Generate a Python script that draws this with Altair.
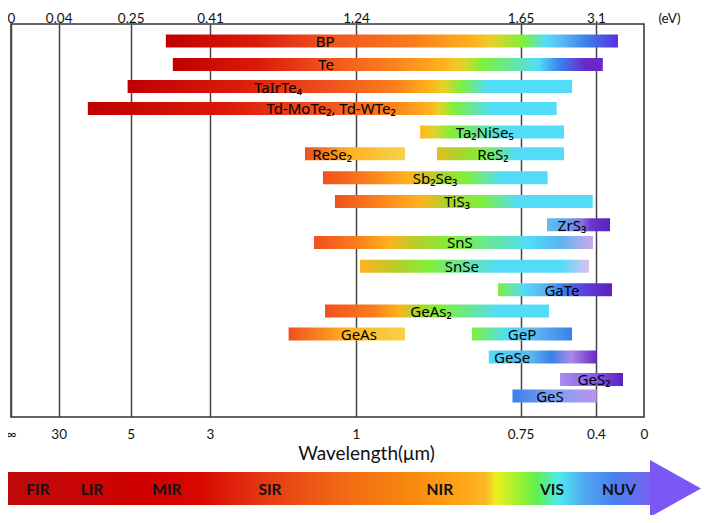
import altair as alt
import pandas as pd

# ---------------- data ----------------
names = ["BP", "Te", "TaIrTe₄", "Td-MoTe₂, Td-WTe₂", "Ta₂NiSe₅", "ReSe₂", "ReS₂",
         "Sb₂Se₃", "TiS₃", "ZrS₃", "SnS", "SnSe", "GaTe", "GeAs₂", "GeAs", "GeP",
         "GeSe", "GeS₂", "GeS"]
# photon-energy range of each material (eV, top axis)
e_start = [0.321, 0.335, 0.241, 0.125, 1.40, 0.95, 1.442, 1.052, 1.12, 2.159, 1.001,
           1.25, 1.594, 1.064, 0.857, 1.529, 1.571, 2.409, 1.63]
e_end = [3.97, 3.37, 2.64, 2.345, 2.485, 1.362, 2.485, 2.17, 3.037, 3.654, 3.042,
         2.966, 3.733, 2.197, 1.362, 2.64, 3.128, 4.169, 3.128]
# vertical row position of each bar
rows = [0.70, 1.79, 2.82, 3.84, 4.94, 5.95, 5.95, 7.07, 8.18, 9.27, 10.09, 11.2,
        12.3, 13.29, 14.36, 14.36, 15.44, 16.48, 17.25]
# where the name is written along each bar (eV)
label_e = [1.064, 1.07, 0.797, 1.098, 1.561, 1.104, 1.581, 1.437, 1.492, 2.639, 1.499,
           1.504, 2.447, 1.427, 1.247, 1.679, 1.629, 3.061, 2.216]

tick_ev = [0, 0.04, 0.25, 0.41, 1.24, 1.65, 3.1, 5]
top_labels = ["0", "0.04", "0.25", "0.41", "1.24", "1.65", "3.1"]
wl_labels = ["∞", "30", "5", "3", "1", "0.75", "0.4", "0"]

bands = ["FIR", "LIR", "MIR", "SIR", "NIR", "VIS", "NUV"]
band_e = [0.0226, 0.137, 0.323, 0.751, 1.449, 2.255, 4.01]

# ---------------- style ----------------
tick_px = [0, 47.7, 119.7, 199, 345, 509.5, 585, 633]  # non-linear axis layout
W, H = 633, 393
FONT = "Lato"
BAR_FONT = "Noto Sans"

DR, R, OR, O, YO, Y = "#c00000", "#dc1a0a", "#f0501e", "#fb7d1c", "#ffb21e", "#e8d028"
YG, G, C, LB, B = "#b4cf2a", "#7ef03c", "#52dcf8", "#5ab4f0", "#3a80ec"
L, P, V, PY = "#a88ce8", "#6a28c8", "#5a30e0", "#f8d24a"

stops = [
    [(0, DR), (0.2, R), (0.35, OR), (0.55, O), (0.68, YO), (0.72, Y), (0.79, G), (0.84, C), (0.88, LB), (0.93, B), (1, V)],
    [(0, DR), (0.2, R), (0.35, OR), (0.5, O), (0.63, YO), (0.67, Y), (0.72, G), (0.85, C), (0.9, B), (0.96, P), (1, P)],
    [(0, DR), (0.25, R), (0.45, OR), (0.6, O), (0.68, YO), (0.71, Y), (0.75, G), (0.81, C), (1, C)],
    [(0, DR), (0.3, R), (0.5, OR), (0.64, O), (0.73, YO), (0.75, Y), (0.78, G), (0.86, C), (1, C)],
    [(0, YO), (0.08, Y), (0.22, G), (0.62, C), (1, C)],
    [(0, OR), (0.45, YO), (1, PY)],
    [(0, "#e0be1e"), (0.15, YG), (0.35, G), (0.62, C), (1, C)],
    [(0, OR), (0.2, O), (0.38, YO), (0.5, YG), (0.64, G), (0.8, C), (1, C)],
    [(0, OR), (0.15, O), (0.33, YO), (0.42, YG), (0.57, G), (0.71, C), (1, C)],
    [(0, "#5cc0f4"), (0.35, "#6a9ae8"), (0.55, "#8a70e0"), (0.7, "#6a38d0"), (1, "#5a20c0")],
    [(0, OR), (0.15, O), (0.27, YO), (0.37, YG), (0.5, G), (0.77, C), (0.88, LB), (1, "#d0a8e8")],
    [(0, YO), (0.17, YG), (0.3, G), (0.6, C), (0.88, C), (1, "#dcc0f0")],
    [(0, G), (0.22, C), (0.4, LB), (0.57, B), (0.75, "#5a40e0"), (1, "#6020b8")],
    [(0, OR), (0.22, O), (0.33, YO), (0.4, YG), (0.52, G), (0.78, C), (1, C)],
    [(0, OR), (0.5, YO), (1, PY)],
    [(0, G), (0.35, C), (0.65, LB), (1, B)],
    [(0, C), (0.4, LB), (0.58, B), (0.76, L), (1, P)],
    [(0, "#a88ef0"), (0.5, "#8a60e8"), (1, "#5a20c0")],
    [(0, B), (0.5, "#80a0f0"), (1, "#b894ec")],
]
arrow_stops = [(0, "#bf0a0a"), (0.22, "#d00000"), (0.3, "#d80a00"), (0.4, "#e63a14"),
               (0.52, "#f26a14"), (0.634, "#fa8c10"), (0.71, "#ffa818"), (0.74, "#fbb828"),
               (0.757, "#eef020"), (0.79, "#a0f030"), (0.82, "#60f050"), (0.854, "#50e8f0"),
               (0.895, "#50a8f0"), (0.94, "#4a80f0"), (1, "#7a60f0")]


def grad(st):
    return {"gradient": "linear", "x1": 0, "y1": 0, "x2": 1, "y2": 0,
            "stops": [{"offset": o, "color": c} for o, c in st]}


def label_expr(values, labels):
    e = "''"
    for v, l in reversed(list(zip(values, labels))):
        e = f"datum.value == {v} ? '{l}' : ({e})"
    return e


xscale = alt.Scale(domain=tick_ev, range=tick_px, nice=False, zero=False)
yscale = alt.Scale(domain=[0.136, 18], reverse=True, nice=False, zero=False)

bars = pd.DataFrame({"idx": list(range(len(names))), "name": names, "start": e_start,
                     "end": e_end, "row": rows, "lx": label_e})
ticks = pd.DataFrame({"ev": tick_ev})
band_df = pd.DataFrame({"band": bands, "e": band_e})
one = pd.DataFrame({"a": [0]})

top_axis = alt.Chart(ticks).mark_point(opacity=0).encode(
    x=alt.X("ev:Q", scale=xscale, axis=alt.Axis(
        orient="top", values=tick_ev[:-1], labelExpr=label_expr(tick_ev[:-1], top_labels),
        grid=True, gridColor="#444", gridWidth=1.5, ticks=False, tickSize=0, domain=False,
        labelFlush=False, labelOverlap=False, labelBound=False, labelFont=FONT,
        labelFontSize=13.5, labelColor="#111", labelBaseline="alphabetic", labelPadding=2,
        title="(eV)", titleFont=FONT, titleFontSize=13.5, titleFontWeight="normal",
        titleColor="#111", titleX=658, titleY=-2, titleAlign="center",
        titleBaseline="alphabetic")),
    y=alt.value(10),
)

bottom_axis = alt.Chart(ticks).mark_point(opacity=0).encode(
    x=alt.X("ev:Q", scale=xscale, axis=alt.Axis(
        orient="bottom", values=tick_ev, labelExpr=label_expr(tick_ev, wl_labels),
        grid=False, ticks=False, tickSize=0, domain=False, labelFlush=False,
        labelOverlap=False, labelBound=False, labelFont=FONT, labelFontSize=13.5,
        labelColor="#111", labelBaseline="alphabetic", labelPadding=21,
        title="Wavelength(μm)", titleFont=FONT, titleFontSize=19, titleFontWeight="normal",
        titleColor="#111", titleX=355, titleY=36, titleAlign="center",
        titleBaseline="middle")),
    y=alt.value(10),
)

bar_layers = []
for i in range(len(names)):
    bar_layers.append(
        alt.Chart(bars).transform_filter(alt.datum.idx == i)
        .mark_bar(orient="horizontal", size=13, fill=grad(stops[i]), strokeWidth=0)
        .encode(x=alt.X("start:Q", scale=xscale, axis=None), x2="end:Q",
                y=alt.Y("row:Q", scale=yscale, axis=None))
    )

bar_text = alt.Chart(bars).mark_text(font=BAR_FONT, fontSize=15, color="#000",
                                     baseline="middle", dy=1).encode(
    x=alt.X("lx:Q", scale=xscale, axis=None),
    y=alt.Y("row:Q", scale=yscale, axis=None),
    text="name:N",
)

arrow_body = alt.Chart(one).mark_rect(fill=grad(arrow_stops)).encode(
    x=alt.value(-3), x2=alt.value(642), y=alt.value(448), y2=alt.value(481))

arrow_head = alt.Chart(one).mark_point(
    shape="M-0.895,-1L0.895,0L-0.895,1Z", size=3249, filled=True, fill="#7b58f4",
    opacity=1, strokeWidth=0).encode(x=alt.value(664.5), y=alt.value(464.5))

band_text = alt.Chart(band_df).mark_text(font=FONT, fontSize=15.5, fontWeight="bold",
                                         color="#111", baseline="middle").encode(
    x=alt.X("e:Q", scale=xscale, axis=None),
    y=alt.value(466),
    text="band:N",
)

chart = alt.layer(top_axis, *bar_layers, bar_text, arrow_body, arrow_head, band_text,
                  bottom_axis).resolve_axis(x="independent").properties(
    width=W, height=H,
    autosize=alt.AutoSizeParams(type="none"),
    padding={"left": 3, "top": 16, "right": 57, "bottom": 98},
).configure_view(stroke="#333", strokeWidth=1.5)

chart.save("out.html", embed_options={"renderer": "svg", "actions": False})
